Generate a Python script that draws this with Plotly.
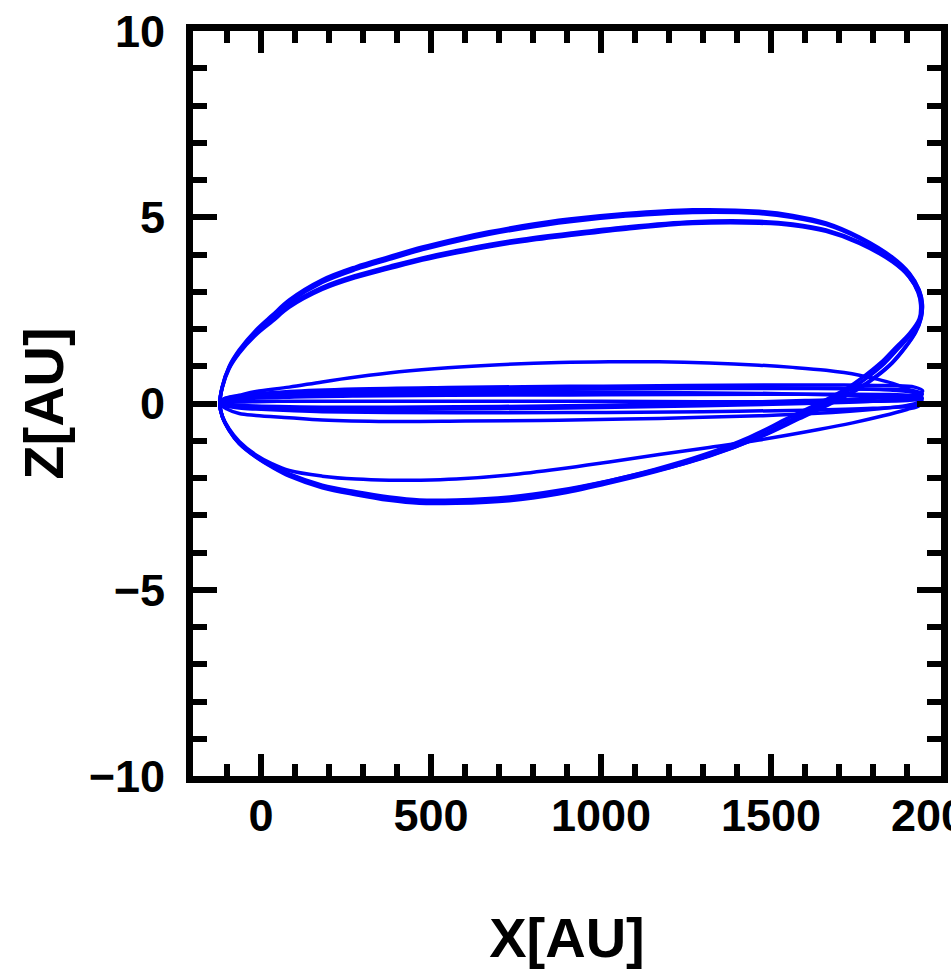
import plotly.graph_objects as go

# Orbit paths projected on the X-Z plane, one closed loop per revolution.
# Each loop runs pericentre -> upper arc -> apocentre -> lower arc -> pericentre.

# Wide, inclined revolutions (the big tilted loops)
loop_a1_x = [-121, -114, -94, -64, -15, 34, 83, 180, 279, 377, 475, 573, 671, 769, 907, 1073, 1269, 1465, 1564, 1662,
             1760, 1857, 1907, 1936, 1945, 1942, 1925, 1895, 1857, 1810, 1760, 1692, 1583, 1466, 1319, 1171, 1024, 877,
             731, 574, 466, 377, 279, 180, 83, 34, -15, -64, -94, -114, -121]
loop_a1_z = [0, 0.45, 0.99, 1.44, 1.97, 2.38, 2.78, 3.32, 3.67, 3.94, 4.2, 4.42, 4.61, 4.77, 4.95, 5.1, 5.2, 5.16, 5.05, 4.85,
             4.47, 3.93, 3.5, 3.05, 2.7, 2.32, 1.92, 1.52, 1.11, 0.74, 0.42, 0.09, -0.39, -0.9, -1.41, -1.79, -2.11, -2.38,
             -2.56, -2.64, -2.64, -2.56, -2.41, -2.23, -1.92, -1.7, -1.43, -1.07, -0.71, -0.35, 0]

loop_a2_x = loop_a1_x
loop_a2_z = [0, 0.44, 0.97, 1.41, 1.93, 2.33, 2.72, 3.25, 3.6, 3.87, 4.13, 4.35, 4.54, 4.7, 4.88, 5.03, 5.13, 5.1, 4.99, 4.8,
             4.43, 3.9, 3.48, 3.03, 2.68, 2.3, 1.9, 1.5, 1.09, 0.72, 0.4, 0.07, -0.41, -0.91, -1.4, -1.76, -2.07, -2.33,
             -2.51, -2.59, -2.59, -2.51, -2.37, -2.19, -1.89, -1.67, -1.4, -1.05, -0.7, -0.34, 0]

loop_a3_x = [-121, -114, -94, -64, -15, 34, 83, 180, 279, 377, 475, 573, 671, 769, 907, 1073, 1269, 1465, 1564, 1662,
             1760, 1857, 1905, 1932, 1940, 1936, 1908, 1866, 1822, 1772, 1722, 1655, 1548, 1437, 1298, 1158, 1016, 873,
             729, 573, 466, 377, 279, 180, 83, 34, -15, -64, -94, -114, -121]
loop_a3_z = [0, 0.43, 0.95, 1.38, 1.88, 2.26, 2.64, 3.12, 3.44, 3.68, 3.91, 4.1, 4.27, 4.41, 4.57, 4.74, 4.88, 4.89, 4.82, 4.66,
             4.33, 3.83, 3.42, 2.99, 2.65, 2.28, 1.89, 1.5, 1.09, 0.72, 0.4, 0.07, -0.4, -0.9, -1.39, -1.77, -2.09, -2.36,
             -2.54, -2.62, -2.62, -2.54, -2.39, -2.21, -1.9, -1.68, -1.41, -1.06, -0.7, -0.35, 0]

loop_a4_x = [-121, -114, -94, -64, -15, 34, 83, 180, 279, 377, 475, 573, 671, 769, 907, 1073, 1269, 1465, 1564, 1662,
             1760, 1857, 1906, 1934, 1942, 1938, 1913, 1875, 1833, 1784, 1734, 1667, 1560, 1447, 1304, 1161, 1018, 874,
             730, 573, 466, 377, 279, 180, 83, 34, -15, -64, -94, -114, -121]
loop_a4_z = [0, 0.42, 0.93, 1.35, 1.84, 2.21, 2.58, 3.06, 3.38, 3.62, 3.85, 4.04, 4.21, 4.35, 4.51, 4.68, 4.83, 4.84, 4.78, 4.62,
             4.3, 3.8, 3.4, 2.97, 2.63, 2.26, 1.87, 1.48, 1.07, 0.7, 0.38, 0.05, -0.43, -0.94, -1.44, -1.83, -2.15, -2.43,
             -2.61, -2.68, -2.68, -2.6, -2.45, -2.26, -1.95, -1.72, -1.44, -1.08, -0.72, -0.35, 0]

# Moderately inclined revolution
loop_b_x = [-121, -110, -64, -15, 83, 180, 280, 407, 550, 701, 877, 1024, 1171, 1318, 1465, 1564, 1662, 1760,
            1809, 1858, 1906, 1935, 1944, 1935, 1900, 1830, 1740, 1640, 1465, 1318, 1171, 1024, 877, 730, 574,
            470, 377, 280, 180, 83, 33, -15, -64, -94, -114, -121]
loop_b_z = [0, 0.12, 0.22, 0.32, 0.44, 0.58, 0.71, 0.85, 0.96, 1.04, 1.1, 1.12, 1.12, 1.09, 1.03, 0.97, 0.89, 0.76,
            0.66, 0.54, 0.37, 0.2, 0.06, -0.06, -0.16, -0.33, -0.52, -0.7, -0.98, -1.18, -1.37, -1.57, -1.76, -1.92, -2.03,
            -2.06, -2.06, -2.03, -1.95, -1.8, -1.62, -1.38, -1.02, -0.68, -0.33, 0]

# Nearly coplanar revolutions
loop_c_x = [-121, -110, -64, 83, 280, 550, 907, 1250, 1500, 1700, 1850, 1925, 1945,
            1930, 1900, 1819, 1623, 1465, 1171, 877, 600, 377, 180, 83, -15, -64, -100, -121]
loop_c_z = [0, 0.1, 0.18, 0.28, 0.33, 0.37, 0.4, 0.42, 0.42, 0.4, 0.36, 0.28, 0.14,
            0.02, -0.05, -0.14, -0.27, -0.33, -0.4, -0.45, -0.47, -0.48, -0.44, -0.38, -0.32, -0.27, -0.15, 0]

loop_e1_x = [-121, -110, -64, 83, 280, 550, 907, 1250, 1500, 1700, 1850, 1922, 1946,
             1935, 1900, 1800, 1600, 1300, 1000, 700, 377, 180, 83, -15, -64, -100, -121]
loop_e1_z = [0, 0.12, 0.2, 0.32, 0.39, 0.43, 0.46, 0.48, 0.5, 0.5, 0.48, 0.44, 0.34,
             0.26, 0.2, 0.14, 0.08, 0.0, -0.05, -0.08, -0.1, -0.1, -0.09, -0.07, -0.05, -0.03, 0]

loop_e2_x = [-121, -110, -64, 83, 280, 550, 907, 1250, 1500, 1700, 1850, 1922, 1944,
             1935, 1900, 1800, 1600, 1300, 1000, 700, 377, 180, 83, -15, -64, -100, -121]
loop_e2_z = [0, 0.09, 0.15, 0.22, 0.26, 0.29, 0.3, 0.29, 0.27, 0.23, 0.18, 0.12, 0.04,
             -0.03, -0.08, -0.13, -0.18, -0.22, -0.24, -0.25, -0.24, -0.22, -0.19, -0.15, -0.12, -0.07, 0]

loop_e3_x = [-121, -110, -64, 83, 280, 550, 907, 1250, 1500, 1700, 1850, 1922, 1943,
             1935, 1900, 1800, 1600, 1300, 1000, 700, 377, 180, 83, -15, -64, -100, -121]
loop_e3_z = [0, 0.07, 0.12, 0.17, 0.2, 0.22, 0.23, 0.24, 0.25, 0.25, 0.24, 0.21, 0.15,
             0.11, 0.08, 0.06, 0.05, 0.05, 0.06, 0.06, 0.06, 0.06, 0.06, 0.05, 0.04, 0.02, 0]

loop_e4_x = [-121, -110, -64, 83, 280, 550, 907, 1250, 1500, 1700, 1850, 1922, 1945,
             1935, 1900, 1800, 1600, 1300, 1000, 700, 377, 180, 83, -15, -64, -100, -121]
loop_e4_z = [0, 0.1, 0.17, 0.26, 0.32, 0.36, 0.38, 0.4, 0.4, 0.4, 0.38, 0.34, 0.26,
             0.18, 0.12, 0.06, 0.0, -0.06, -0.11, -0.14, -0.16, -0.16, -0.14, -0.11, -0.09, -0.05, 0]

loops = [
    (loop_a1_x, loop_a1_z), (loop_a2_x, loop_a2_z), (loop_a3_x, loop_a3_z), (loop_a4_x, loop_a4_z),
    (loop_b_x, loop_b_z), (loop_c_x, loop_c_z),
    (loop_e1_x, loop_e1_z), (loop_e2_x, loop_e2_z), (loop_e3_x, loop_e3_z), (loop_e4_x, loop_e4_z),
]

x_major_ticks = [0, 500, 1000, 1500, 2000]
x_tick_text = ["0", "500", "1000", "1500", "2000"]
z_major_ticks = [-10, -5, 0, 5, 10]
z_tick_text = ["\u221210", "\u22125", "0", "5", "10"]

FONT = "Liberation Sans, Arial, sans-serif"

fig = go.Figure()
for lx, lz in loops:
    fig.add_trace(go.Scatter(
        x=lx, y=lz, mode="lines",
        line=dict(color="#0000FF", width=3.5, shape="spline", smoothing=1.0),
        showlegend=False, hoverinfo="skip",
    ))

axis_common = dict(
    showgrid=False, zeroline=False,
    automargin=False,
    showline=True, linecolor="black", linewidth=7, mirror="allticks",
    ticks="inside", tickcolor="black", tickwidth=6,
    tickfont=dict(family=FONT, size=45, color="black", weight="bold"),
    ticklabeloverflow="allow",
)

fig.update_xaxes(
    range=[-200, 2000], tickmode="array", tickvals=x_major_ticks, ticktext=x_tick_text,
    ticklen=22,
    minor=dict(dtick=100, tick0=0, ticks="inside", ticklen=12, tickwidth=6, tickcolor="black"),
    title=dict(text="X[AU]", font=dict(family=FONT, size=56, color="black", weight="bold"), standoff=80),
    ticklabelstandoff=-6,
    **axis_common,
)
fig.update_yaxes(
    range=[-10, 10], tickmode="array", tickvals=z_major_ticks, ticktext=z_tick_text,
    ticklen=24,
    minor=dict(dtick=1, tick0=0, ticks="inside", ticklen=14, tickwidth=6, tickcolor="black"),
    title=dict(text="Z[AU]", font=dict(family=FONT, size=56, color="black", weight="bold"), standoff=10),
    ticklabelstandoff=12,
    **axis_common,
)

fig.update_layout(
    width=951, height=978,
    margin=dict(l=193, r=10, t=31, b=202, pad=0),
    paper_bgcolor="white", plot_bgcolor="white",
)

fig.write_html("out.html")
